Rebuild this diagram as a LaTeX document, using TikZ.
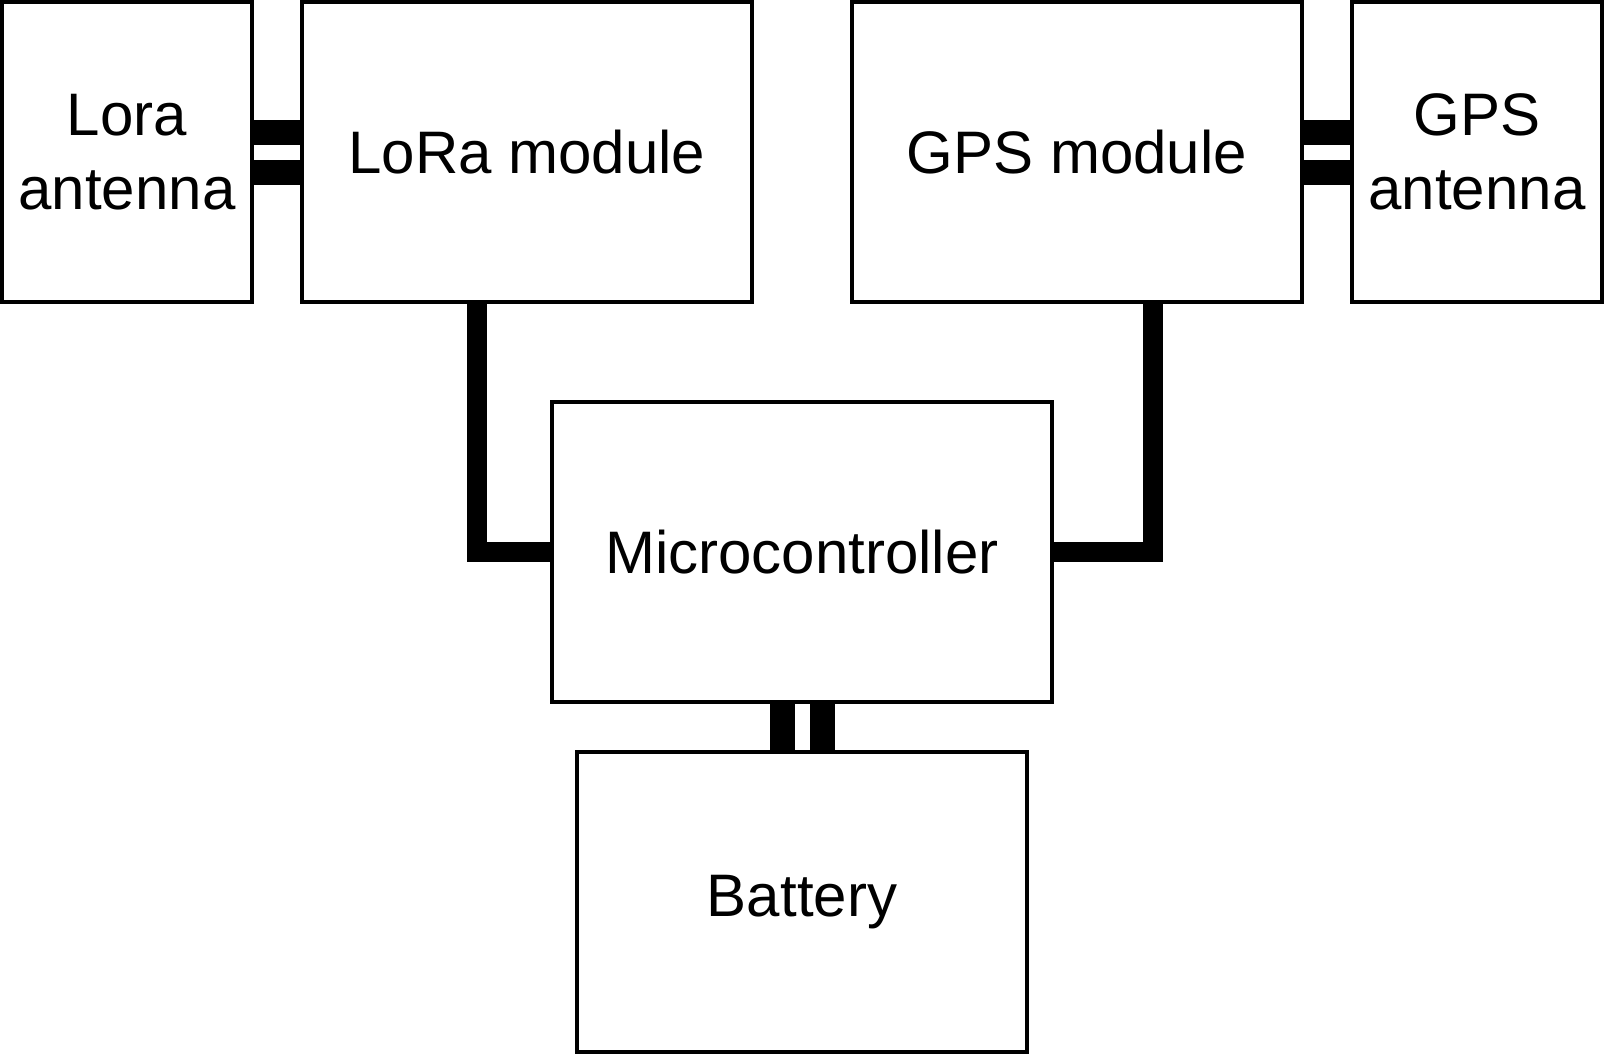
\documentclass[tikz,border=0pt]{standalone}
\usepackage{fontspec}
\setmainfont{Liberation Sans}
\usepackage{tikz}
\usetikzlibrary{calc}

\begin{document}
\begin{tikzpicture}[x=1pt, y=-1pt,
    block/.style={draw, line width=4.5pt, inner sep=0pt, align=center,
      minimum height=300pt, font=\fontsize{60}{74}\selectfont},
    link/.style={line width=25pt, double=white, double distance=15pt},
    wire/.style={line width=20pt, line join=miter}]
  \useasboundingbox (0, 0) rectangle (1605, 1055);

  \node[block, minimum width=250pt] (loraant) at (127, 152) {Lora\\antenna};
  \node[block, minimum width=450pt] (loramod) at (527, 152) {LoRa module};
  \node[block, minimum width=450pt] (gpsmod) at (1077, 152) {GPS module};
  \node[block, minimum width=250pt] (gpsant) at (1477, 152) {GPS\\antenna};
  \node[block, minimum width=500pt] (mcu) at (802, 552) {Microcontroller};
  \node[block, minimum width=450pt] (battery) at (802, 902) {Battery};

  \draw[link] (loraant.east) -- (loramod.west);
  \draw[link] (gpsmod.east) -- (gpsant.west);
  \draw[link] (mcu.south) -- (battery.north);

  \draw[wire] ([xshift=-50pt]loramod.south) |- (mcu.west);
  \draw[wire] ([xshift=76pt]gpsmod.south) |- (mcu.east);
\end{tikzpicture}
\end{document}
